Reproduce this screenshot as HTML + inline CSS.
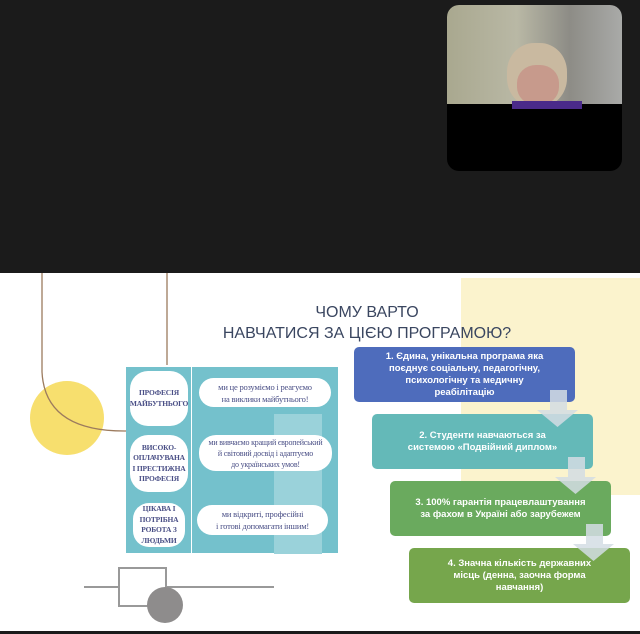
<!DOCTYPE html>
<html><head><meta charset="utf-8"><style>
body{margin:0;width:640px;height:634px;background:#1b1b1b;position:relative;overflow:hidden;font-family:"Liberation Sans",sans-serif}
.a{position:absolute}
.b{position:absolute;color:#fff;font-weight:bold;font-size:9.5px;line-height:12px;text-align:center;display:flex;align-items:center;justify-content:center;border-radius:5px}
.s{font-family:"Liberation Serif",serif;color:#4a4f86;font-size:7.5px;line-height:10.5px;text-align:center;display:flex;align-items:center;justify-content:center;background:#fff;position:absolute;white-space:nowrap;letter-spacing:-0.2px}
.s.l{font-weight:bold}
</style></head><body>
<div class="a" style="left:447px;top:5px;width:175px;height:166px;background:#000;border-radius:12px;overflow:hidden">
 <div class="a" style="left:0;top:0;width:175px;height:99px;background:linear-gradient(90deg,#a9a88f 0,#b9b8a5 40%,#8d8c86 70%,#a9aaa8 100%)"></div>
 <div class="a" style="left:60px;top:38px;width:60px;height:64px;border-radius:45%;background:#c9b9a0"></div>
 <div class="a" style="left:70px;top:60px;width:42px;height:40px;border-radius:45%;background:#c79a8c"></div>
 <div class="a" style="left:65px;top:96px;width:70px;height:8px;background:#4a2a8a"></div>
</div>
<div class="a" style="left:0;top:273px;width:640px;height:358px;background:#fff"></div>
<div class="a" style="left:461px;top:278px;width:179px;height:217px;background:#fbf3cd"></div>
<div class="a" style="left:30px;top:381px;width:74px;height:74px;border-radius:50%;background:#f7df6e"></div>
<svg class="a" style="left:0;top:0" width="640" height="634">
 <path d="M42 273 V372 Q45 432 127 431" fill="none" stroke="#9c7b5e" stroke-width="1.3"/>
 <path d="M167 273 V365" fill="none" stroke="#9c7b5e" stroke-width="1.3"/>
 <line x1="84" y1="587" x2="274" y2="587" stroke="#999" stroke-width="2"/>
 <rect x="119" y="568" width="47" height="38" fill="#fff" stroke="#999" stroke-width="2"/>
 <circle cx="165" cy="605" r="18" fill="#8e8c8c"/>
</svg>
<div class="a" style="left:126px;top:367px;width:212px;height:186px;background:#74c1cc"></div>
<div class="a" style="left:274px;top:414px;width:48px;height:140px;background:#9ad2da"></div>
<div class="a" style="left:191px;top:367px;width:1px;height:186px;background:#fff"></div>
<div class="s l" style="left:130px;top:371px;width:58px;height:55px;border-radius:18px">ПРОФЕСІЯ<br>МАЙБУТНЬОГО</div>
<div class="s l" style="left:130px;top:435px;width:58px;height:57px;border-radius:18px">ВИСОКО-<br>ОПЛАЧУВАНА<br>І ПРЕСТИЖНА<br>ПРОФЕСІЯ</div>
<div class="s l" style="left:133px;top:503px;width:52px;height:44px;border-radius:16px">ЦІКАВА І<br>ПОТРІБНА<br>РОБОТА З<br>ЛЮДЬМИ</div>
<div class="s" style="left:199px;top:378px;width:132px;height:29px;border-radius:15px;font-size:8.5px;line-height:12px">ми це розуміємо і реагуємо<br>на виклики майбутнього!</div>
<div class="s" style="left:199px;top:435px;width:133px;height:36px;border-radius:17px;font-size:8px;line-height:11px">ми вивчаємо кращий європейський<br>й світовий досвід і адаптуємо<br>до українських умов!</div>
<div class="s" style="left:197px;top:505px;width:131px;height:30px;border-radius:15px;font-size:8.5px;line-height:12px">ми відкриті, професійні<br>і готові допомагати іншим!</div>
<div class="a" style="left:180px;top:302px;width:374px;text-align:center;color:#3a4660;font-size:16px;line-height:21px">ЧОМУ ВАРТО<br>НАВЧАТИСЯ ЗА ЦІЄЮ ПРОГРАМОЮ?</div>
<div class="b" style="left:354px;top:347px;width:221px;height:55px;background:#4e6cbc">1. Єдина, унікальна програма яка<br>поєднує соціальну, педагогічну,<br>психологічну та медичну<br>реабілітацію</div>
<div class="b" style="left:372px;top:414px;width:221px;height:55px;background:#64b9b8">2. Студенти навчаються за<br>системою «Подвійний диплом»</div>
<div class="b" style="left:390px;top:481px;width:221px;height:55px;background:#6aaa5e">3. 100% гарантія працевлаштування<br>за фахом в Україні або зарубежем</div>
<div class="b" style="left:409px;top:548px;width:221px;height:55px;background:#76a64c">4. Значна кількість державних<br>місць (денна, заочна форма<br>навчання)</div>
<svg class="a" style="left:0;top:0" width="640" height="634">
 <g fill="#d4dde4" opacity=".85">
  <path d="M550 390h17v20h11l-20.5 17-20.5-17h13z"/>
  <path d="M568 457h17v20h11l-20.5 17-20.5-17h13z"/>
  <path d="M586 524h17v20h11l-20.5 17-20.5-17h13z"/>
 </g>
</svg>
</body></html>
